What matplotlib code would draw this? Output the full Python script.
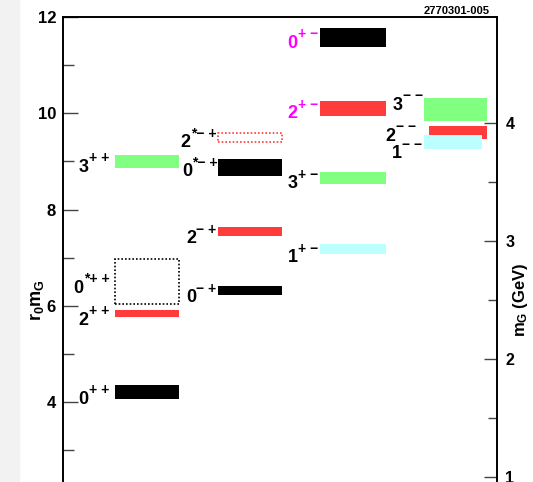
import matplotlib
matplotlib.use('Agg')
import matplotlib.pyplot as plt
from matplotlib.patches import Rectangle

plt.rcParams['font.family'] = ['Liberation Sans', 'DejaVu Sans']
plt.rcParams['font.weight'] = 'bold'
plt.rcParams['mathtext.fontset'] = 'custom'
plt.rcParams['mathtext.rm'] = 'Liberation Sans:bold'
plt.rcParams['mathtext.it'] = 'Liberation Sans:bold'
plt.rcParams['mathtext.bf'] = 'Liberation Sans:bold'

# glueball states J^PC, r0*mG ranges (low, high)
spins = ['0', '2', '0', '3',
         '0', '2', '0', '2',
         '1', '3', '2', '0',
         '1', '2', '3']
pc = ['++', '++', '*++', '++',
      '-+', '-+', '*-+', '*-+',
      '+-', '+-', '+-', '+-',
      '--', '--', '--']
mass_lo = [4.06, 5.76, 6.04, 8.86,
           6.22, 7.44, 8.70, 9.40,
           7.07, 8.54, 9.95, 11.37,
           9.26, 9.47, 9.83]
mass_hi = [4.35, 5.92, 6.97, 9.13,
           6.41, 7.64, 9.04, 9.60,
           7.28, 8.77, 10.25, 11.78,
           9.54, 9.74, 10.31]
r0_inv = 2.447  # r0*mG per GeV

# layout / style
x_left = [0.120, 0.120, 0.120, 0.120,
          0.357, 0.357, 0.357, 0.357,
          0.592, 0.592, 0.592, 0.592,
          0.831, 0.843, 0.832]
x_right = [0.267, 0.267, 0.267, 0.267,
           0.505, 0.505, 0.505, 0.505,
           0.744, 0.744, 0.744, 0.744,
           0.966, 0.978, 0.978]
colors = ['black', '#ff3b3b', 'black', '#80ff80',
          'black', '#ff3b3b', 'black', '#ff3b3b',
          '#bbffff', '#80ff80', '#ff3b3b', 'black',
          '#bbffff', '#ff3b3b', '#80ff80']
dotted = [False, False, True, False,
          False, False, False, True,
          False, False, False, False,
          False, False, False]
label_colors = ['black'] * 10 + ['#ff00ff', '#ff00ff'] + ['black'] * 3
label_dy = [-2, -2, -2, -1, -2, -2, 0, -1, -3, -1, -1, -1, -5.5, 0, 6.5]
label_dx = [-4, -4, -4, -4, -1, -1, 0, -1, -1, -1, -1, -1, -1, -9, -1]
draw_order = [0, 1, 2, 3, 4, 5, 6, 7, 8, 9, 10, 11, 14, 13, 12]


def sup_text(s):
    out = ''
    for k, c in enumerate(s):
        c = '\u2212' if c == '-' else c
        if k > 0 and s[k - 1] != '*':
            out += ' '
        out += c
    return out


fig = plt.figure(figsize=(5.33, 4.82), dpi=100)
fig.patches.append(Rectangle((0, 0), 19 / 533, 1, transform=fig.transFigure,
                             color='#f2f2f2', zorder=-1))
ax = fig.add_axes([63 / 533, 1 - 17 / 482 - 481.25 / 482, 434 / 533, 481.25 / 482])

for i in draw_order:
    w = x_right[i] - x_left[i]
    h = mass_hi[i] - mass_lo[i]
    if dotted[i]:
        ax.add_patch(Rectangle((x_left[i], mass_lo[i]), w, h, facecolor='none',
                               edgecolor=colors[i], linestyle=(0, (1, 1.2)), linewidth=1.2))
    else:
        ax.add_patch(Rectangle((x_left[i], mass_lo[i]), w, h, facecolor=colors[i],
                               edgecolor='none'))
    sup = ax.annotate(sup_text(pc[i]), (x_left[i], (mass_lo[i] + mass_hi[i]) / 2),
                      xytext=(label_dx[i], label_dy[i] + 3.5), textcoords='offset points',
                      ha='right', va='center', fontsize=10, color=label_colors[i])
    ax.annotate(spins[i], (0, 0.5), xycoords=sup, xytext=(-0.3, -6.5),
                textcoords='offset points', ha='right', va='center',
                fontsize=13, color=label_colors[i])

ax.set_xlim(0, 1)
ax.set_ylim(2, 12)
ax.set_xticks([])
ax.spines['bottom'].set_visible(False)
ax.spines['right'].set_visible(False)
for s in ['left', 'top']:
    ax.spines[s].set_linewidth(1.4)

ax.set_yticks([4, 6, 8, 10, 12])
ax.set_yticks([3, 5, 7, 9, 11], minor=True)
ax.tick_params(axis='y', which='major', direction='in', length=10.5, width=1,
               color='#444444', labelsize=12, pad=5)
ax.tick_params(axis='y', which='minor', direction='in', length=8, width=1, color='#444444')
ax.set_ylabel('$r_0m_G$', fontsize=13)
ax.yaxis.set_label_coords(-0.04, 0.412)

sec = ax.secondary_yaxis('right', functions=(lambda r: r / r0_inv, lambda m: m * r0_inv))
sec.set_yticks([1, 2, 3, 4])
sec.set_yticks([1.5, 2.5, 3.5], minor=True)
sec.tick_params(axis='y', which='major', direction='in', length=9.5, width=1,
                color='#444444', labelsize=11.5, pad=6)
sec.tick_params(axis='y', which='minor', direction='in', length=6.5, width=1, color='#444444')
sec.spines['right'].set_linewidth(1.4)
fig.text(521 / 533, 1 - 300 / 482, '$m_G$ (GeV)', rotation=90, ha='center', va='center',
         fontsize=12, fontweight='bold')

fig.text(490 / 533, 1 - 16 / 482, '2770301-005', ha='right', va='bottom',
         fontsize=8, fontstretch='condensed')

fig.savefig('out.png', dpi=100)
